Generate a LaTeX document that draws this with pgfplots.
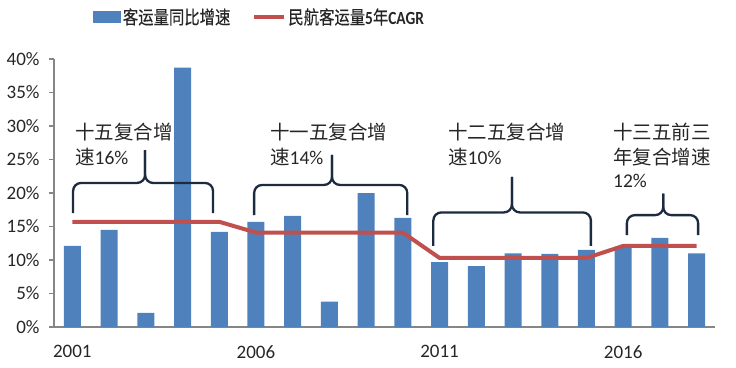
\documentclass[border=0pt]{standalone}
\usepackage{pgfplots}
\pgfplotsset{compat=1.18}
\usepackage{fontspec}
\setmainfont{Carlito}
\newfontfamily\cjk{Noto Sans CJK SC}
\newfontfamily\cjkleg[FakeStretch=0.83,FakeBold=0.4]{Noto Sans CJK SC}
\newfontfamily\latleg[FakeStretch=0.83]{Carlito}
\definecolor{barblue}{HTML}{4F81BD}
\definecolor{linered}{HTML}{C0504D}
\definecolor{bracec}{HTML}{1C2B3F}
\definecolor{axisgray}{HTML}{868686}
\definecolor{txt}{HTML}{262626}
\newcommand{\mybrace}[6]{%
\draw[bracec, line width=2.3pt, rounded corners=8pt] (axis cs:#1,#4) -- (axis cs:#1,#5) -- (axis cs:#3,#5) -- (axis cs:#3,#6);
\draw[bracec, line width=2.3pt, rounded corners=8pt] (axis cs:#2,#4) -- (axis cs:#2,#5) -- (axis cs:#3,#5) -- (axis cs:#3,#6);}
\begin{document}
\begin{tikzpicture}
\useasboundingbox (-54pt,-40pt) rectangle (682pt,327pt);
\begin{axis}[
  at={(0pt,0pt)}, anchor=south west,
  scale only axis, width=661pt, height=268pt,
  xmin=-0.5, xmax=17.5, ymin=0, ymax=40,
  clip=false,
  axis lines=left,
  axis line style={-, draw=axisgray, line width=1.3pt},
  tick style={draw=axisgray, line width=1.3pt},
  tick align=outside, major tick length=5pt,
  xtick={0,5,10,15},
  xticklabels={2001,2006,2011,2016},
  x tick style={draw=none},
  extra x ticks={-0.5,4.5,9.5,14.5},
  extra x tick labels={},
  extra x tick style={tick style={draw=axisgray, line width=1.3pt}},
  ytick={0,5,...,40},
  yticklabels={0\%,5\%,10\%,15\%,20\%,25\%,30\%,35\%,40\%},
  ticklabel style={font=\fontsize{19}{22}\selectfont, text=txt},
  xticklabel style={yshift=-10pt},
  yticklabel style={xshift=-6pt},
  legend style={at={(0.054,1.157)}, anchor=west, draw=none, fill=none,
    legend columns=2, font=\fontsize{18.5}{20}\selectfont\latleg, text=txt,
    /tikz/every even column/.append style={column sep=20pt}},
]
\addplot[ybar, bar width=17pt, fill=barblue, draw=none,
  legend image code/.code={\fill[barblue] (0pt,-6pt) rectangle (28pt,6pt);}]
  coordinates {(0,12.1) (1,14.5) (2,2.1) (3,38.7) (4,14.2) (5,15.7) (6,16.6) (7,3.8) (8,20.0) (9,16.3)
  (10,9.7) (11,9.1) (12,11.0) (13,10.9) (14,11.5) (15,12.0) (16,13.3) (17,11.0)};
\addlegendentry{\cjkleg 客运量同比增速}
\addplot[linered, line width=4pt, mark=none,
  legend image code/.code={\draw[linered, line width=4pt] (0pt,0pt) -- (30pt,0pt);}]
  coordinates {(0,15.7) (4,15.7) (5,14.1) (9,14.1) (10,10.3) (14,10.3) (15,12.1) (17,12.1)};
\addlegendentry{{\cjkleg 民航客运量}\textbf{5}{\cjkleg 年}\textbf{CAGR}}
\mybrace{0.02}{3.83}{1.98}{17.0}{21.5}{26.4}
\mybrace{4.95}{9.12}{7.07}{16.7}{21.2}{25.7}
\mybrace{9.83}{14.12}{11.97}{12.1}{17.1}{22.4}
\mybrace{15.10}{17.04}{16.09}{13.7}{16.7}{19.9}
\node[anchor=base west, inner sep=0pt, text=txt, font=\fontsize{19.5}{22}\selectfont] at (axis cs:0.072,28.0) {\cjk 十五复合增};
\node[anchor=base west, inner sep=0pt, text=txt, font=\fontsize{19.5}{22}\selectfont] at (axis cs:0.072,24.25) {{\cjk 速}16\%};
\node[anchor=base west, inner sep=0pt, text=txt, font=\fontsize{19.5}{22}\selectfont] at (axis cs:5.38,28.0) {\cjk 十一五复合增};
\node[anchor=base west, inner sep=0pt, text=txt, font=\fontsize{19.5}{22}\selectfont] at (axis cs:5.38,24.25) {{\cjk 速}14\%};
\node[anchor=base west, inner sep=0pt, text=txt, font=\fontsize{19.5}{22}\selectfont] at (axis cs:10.23,28.0) {\cjk 十二五复合增};
\node[anchor=base west, inner sep=0pt, text=txt, font=\fontsize{19.5}{22}\selectfont] at (axis cs:10.23,24.25) {{\cjk 速}10\%};
\node[anchor=base west, inner sep=0pt, text=txt, font=\fontsize{19.5}{22}\selectfont] at (axis cs:14.72,28.0) {\cjk 十三五前三};
\node[anchor=base west, inner sep=0pt, text=txt, font=\fontsize{19.5}{22}\selectfont] at (axis cs:14.72,24.25) {\cjk 年复合增速};
\node[anchor=base west, inner sep=0pt, text=txt, font=\fontsize{19.5}{22}\selectfont] at (axis cs:14.72,20.84) {12\%};
\end{axis}
\end{tikzpicture}
\end{document}
